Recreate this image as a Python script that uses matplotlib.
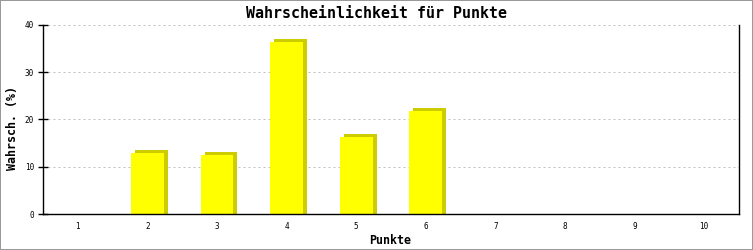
import matplotlib
matplotlib.use("Agg")
import matplotlib.pyplot as plt
import matplotlib.transforms as mtransforms
from matplotlib.patches import Rectangle

categories = ["1", "2", "3", "4", "5", "6", "7", "8", "9", "10"]
values = [0, 12.9, 12.5, 36.4, 16.3, 21.9, 0, 0, 0, 0]
yticks = [0, 10, 20, 30, 40]

plt.rcParams['lines.scale_dashes'] = False
W, H, DPI = 753, 250, 100
fig = plt.figure(figsize=(W / DPI, H / DPI), dpi=DPI)
fig.patch.set_facecolor("white")

L, R, T, B = 43, 739, 25, 214
ax = fig.add_axes([L / W, (H - B) / H, (R - L) / W, (B - T) / H])
ax.set_xlim(0.5, 10.5)
ax.set_ylim(0, 40)

x = list(range(1, len(categories) + 1))
width = 0.47
px = 72.0 / DPI
shadow_tr = mtransforms.offset_copy(ax.transData, fig=fig, x=4 * px, y=3 * px, units='points')
pos_vals = [v if v > 0 else 0 for v in values]
ax.bar(x, [v + 1 if v > 0 else 0 for v in pos_vals], bottom=-1, width=width,
       color="#cccc00", edgecolor="none", transform=shadow_tr, zorder=2)
ax.bar(x, pos_vals, width=width, color="#ffff00", edgecolor="none", zorder=3)

ax.set_yticks(yticks)
ax.set_yticklabels([str(t) for t in yticks])
ax.set_xticks(x)
ax.set_xticklabels(categories)

for t in yticks[1:]:
    ax.axhline(t, color="#c0c0c0", linewidth=0.72, linestyle=(0, (1.44, 2.16)), zorder=1)

for s in ["left", "bottom", "right"]:
    ax.spines[s].set_linewidth(1.0)
    ax.spines[s].set_color("black")
ax.spines["top"].set_visible(False)
ax.spines["left"].set_zorder(4)
ax.spines["bottom"].set_zorder(4)

mono = "DejaVu Sans Mono"
ax.tick_params(axis='y', direction='inout', length=7, width=1, pad=3,
               labelsize=5.5, labelfontfamily=mono)
ax.tick_params(axis='x', length=0, pad=6, labelsize=5.5, labelfontfamily=mono)

fig.text(376 / W, 1 - 13 / H, "Wahrscheinlichkeit für Punkte", ha="center", va="center",
         fontsize=10.8, fontweight="bold", family=mono)
fig.text(390 / W, 1 - 240 / H, "Punkte", ha="center", va="center",
         fontsize=8.4, fontweight="bold", family=mono)
fig.text(13 / W, 1 - 128 / H, "Wahrsch. (%)", ha="center", va="center", rotation=90,
         fontsize=8.4, fontweight="bold", family=mono)

fig.patches.append(Rectangle((0, 0), 1, 1, transform=fig.transFigure, fill=False,
                             edgecolor="#999999", linewidth=2 * px * 1.0))

fig.savefig("out.png", dpi=DPI)
